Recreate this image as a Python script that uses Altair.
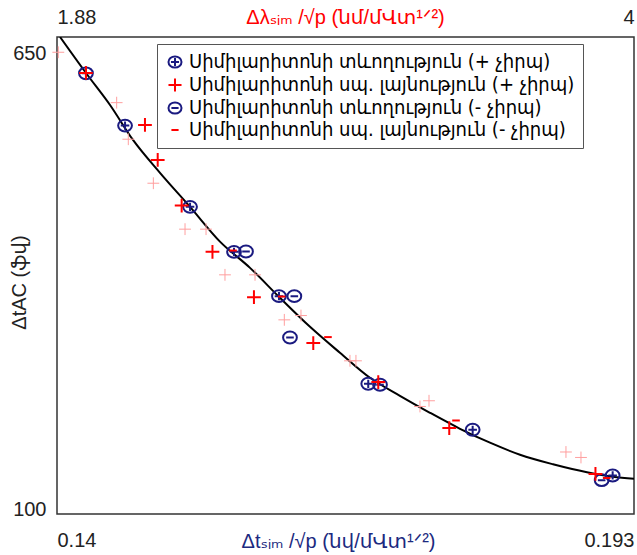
import altair as alt
import pandas as pd

# ---------------- data ----------------
names = [
    "Սիմիլարիտոնի տևողություն (+ չիրպ)",
    "Սիմիլարիտոնի սպ. լայնություն (+ չիրպ)",
    "Սիմիլարիտոնի տևողություն (- չիրպ)",
    "Սիմիլարիտոնի սպ. լայնություն (- չիրպ)",
]

dur_pos_x = [0.14266, 0.14625, 0.15222, 0.15626, 0.16039, 0.16859, 0.17818, 0.19104]
dur_pos_y = [626.2, 563.1, 465.1, 410.8, 357.4, 251.7, 196.2, 141.1]

wid_pos_x = [0.14266, 0.14808, 0.14925, 0.15145, 0.15428, 0.15809, 0.16354, 0.16951, 0.17603, 0.18946]
wid_pos_y = [626.6, 563.9, 521.7, 466.6, 410.8, 356.2, 300.8, 253.7, 198.3, 143.0]

dur_neg_x = [0.15736, 0.16180, 0.16140, 0.16967, 0.19003]
dur_neg_y = [411.2, 357.4, 307.5, 250.5, 135.4]

wid_neg_x = [0.15617, 0.16064, 0.16489, 0.16976, 0.17665, 0.19049]
wid_neg_y = [412.4, 356.9, 308.0, 253.7, 207.4, 138.0]

# faint reference crosses (no legend entry)
ref_x = [0.14012, 0.14548, 0.14655, 0.14885, 0.15176, 0.15369, 0.15543, 0.15819,
         0.16088, 0.16241, 0.16691, 0.16746, 0.17334, 0.17417, 0.18675, 0.18813]
ref_y = [651.6, 590.8, 546.7, 493.6, 438.2, 438.2, 383.1, 383.1,
         328.8, 334.0, 279.4, 279.4, 224.3, 231.2, 169.4, 162.8]

# fitted curve, points
fit_x = [0.14028, 0.14266, 0.14487, 0.14698, 0.14946, 0.15222, 0.15497, 0.15773,
         0.16048, 0.16324, 0.16599, 0.16875, 0.17150, 0.17426, 0.17702, 0.17977,
         0.18253, 0.18556, 0.18868, 0.19107, 0.19300]
fit_y = [670.0, 626.6, 588.0, 545.8, 506.1, 465.1, 423.2, 391.5,
         355.4, 320.4, 289.1, 258.9, 237.2, 216.7, 197.4, 180.6,
         166.1, 154.6, 145.0, 139.6, 137.2]

x_domain = [0.14, 0.193]
y_domain = [94.6, 670]
x_ticks = [0.14, 0.193]
y_ticks = [100, 650]
top_domain = [1.88, 4]
top_ticks = [1.88, 4]

# ---------------- styling ----------------
NAVY = "#1a1a80"
RED = "#ff0000"
PALE = "#ff9f9f"

oplus = "M-1,0A1,0.86,0,1,1,1,0A1,0.86,0,1,1,-1,0ZM-0.62,0L0.62,0M0,-0.6L0,0.6"
ominus = "M-1,0A1,0.86,0,1,1,1,0A1,0.86,0,1,1,-1,0ZM-0.55,0L0.55,0"
plus = "M-1,0L1,0M0,-1L0,1"
minus = "M-0.55,0L0.55,0"

rows = []
for name, xs, ys in [
    (names[0], dur_pos_x, dur_pos_y),
    (names[2], dur_neg_x, dur_neg_y),
    (names[1], wid_pos_x, wid_pos_y),
    (names[3], wid_neg_x, wid_neg_y),
]:
    for a, b in zip(xs, ys):
        rows.append({"x": a, "y": b, "series": name})
pts = pd.DataFrame(rows)
ref = pd.DataFrame({"x": ref_x, "y": ref_y})
fit = pd.DataFrame({"x": fit_x, "y": fit_y})
top = pd.DataFrame({"v": top_ticks})

LBL_FONT = "Liberation Sans, Arial, DejaVu Sans"
ARM_FONT = "DejaVu Sans Condensed, DejaVu Sans"
FS = 20

x_enc = alt.X(
    "x:Q",
    scale=alt.Scale(domain=x_domain, nice=False, zero=False),
    axis=alt.Axis(
        values=x_ticks, labelExpr="'' + datum.value", labelFlush=True,
        ticks=False, domain=False, grid=False,
        labelFont=LBL_FONT, labelFontSize=FS, labelColor="#222", labelPadding=16,
        title="Δtₛᵢₘ /√p  (նվ/մՎտ¹ᐟ²)", titleColor="#1c2a80", titleFont=LBL_FONT,
        titleFontSize=FS, titleFontWeight="normal", titleY=27, titleBaseline="middle",
        titleX=281,
    ),
)
y_enc = alt.Y(
    "y:Q",
    scale=alt.Scale(domain=y_domain, nice=False, zero=False),
    axis=alt.Axis(
        values=y_ticks, labelExpr="'' + datum.value",
        ticks=False, domain=False, grid=False,
        labelFont=LBL_FONT, labelFontSize=FS, labelColor="#222", labelPadding=11,
        title="ΔtAC (ֆվ)", titleFont=LBL_FONT, titleFontSize=FS, titleFontWeight="normal",
        titleColor="#222", titleAngle=270, titleX=-38, titleY=245, titleBaseline="middle",
        titleAlign="center",
    ),
)

legend = alt.Legend(
    title=None, orient="none", legendX=100, legendY=7,
    fillColor="white", strokeColor="#555", padding=8,
    labelFont=ARM_FONT, labelFontSize=20, labelColor="black", labelLimit=0,
    symbolSize=170, symbolStrokeWidth=2, rowPadding=2, labelOffset=4,
)

curve = alt.Chart(fit).mark_line(color="black", strokeWidth=2, interpolate="monotone", clip=True).encode(
    x=x_enc, y=y_enc
)
pale = alt.Chart(ref).mark_point(shape=plus, filled=False, color=PALE, strokeWidth=1, size=140, opacity=1).encode(
    x="x:Q", y="y:Q"
)
points = alt.Chart(pts).mark_point(filled=False, strokeWidth=2, size=190, opacity=1).encode(
    x="x:Q",
    y="y:Q",
    color=alt.Color("series:N", scale=alt.Scale(domain=names, range=[NAVY, RED, NAVY, RED]), legend=legend),
    shape=alt.Shape("series:N", scale=alt.Scale(domain=names, range=[oplus, plus, ominus, minus]), legend=legend),
)

main = alt.layer(curve, pale, points)

top_axis = alt.Chart(top).mark_point(opacity=0).encode(
    x=alt.X(
        "v:Q",
        scale=alt.Scale(domain=top_domain, nice=False, zero=False),
        axis=alt.Axis(
            orient="top", values=top_ticks, labelExpr="'' + datum.value", labelFlush=True,
            ticks=False, domain=False, grid=False,
            labelFont=LBL_FONT, labelFontSize=FS, labelColor="#222", labelPadding=10,
            title="Δλₛᵢₘ /√p  (նմ/մՎտ¹ᐟ²)", titleColor=RED, titleFont=LBL_FONT,
            titleFontSize=FS, titleFontWeight="normal", titleY=-20, titleBaseline="middle",
            titleX=288,
        ),
    ),
    y=alt.value(0),
)

chart = (
    alt.layer(main, top_axis)
    .resolve_scale(x="independent")
    .properties(
        width=577, height=477,
        autosize=alt.AutoSizeParams(type="none"),
        padding={"left": 57, "top": 37, "right": 3, "bottom": 41},
        background="white",
    )
    .configure_view(stroke="#333", strokeWidth=1.5)
)

chart.save("out.html", embed_options={"renderer": "svg", "actions": False})
